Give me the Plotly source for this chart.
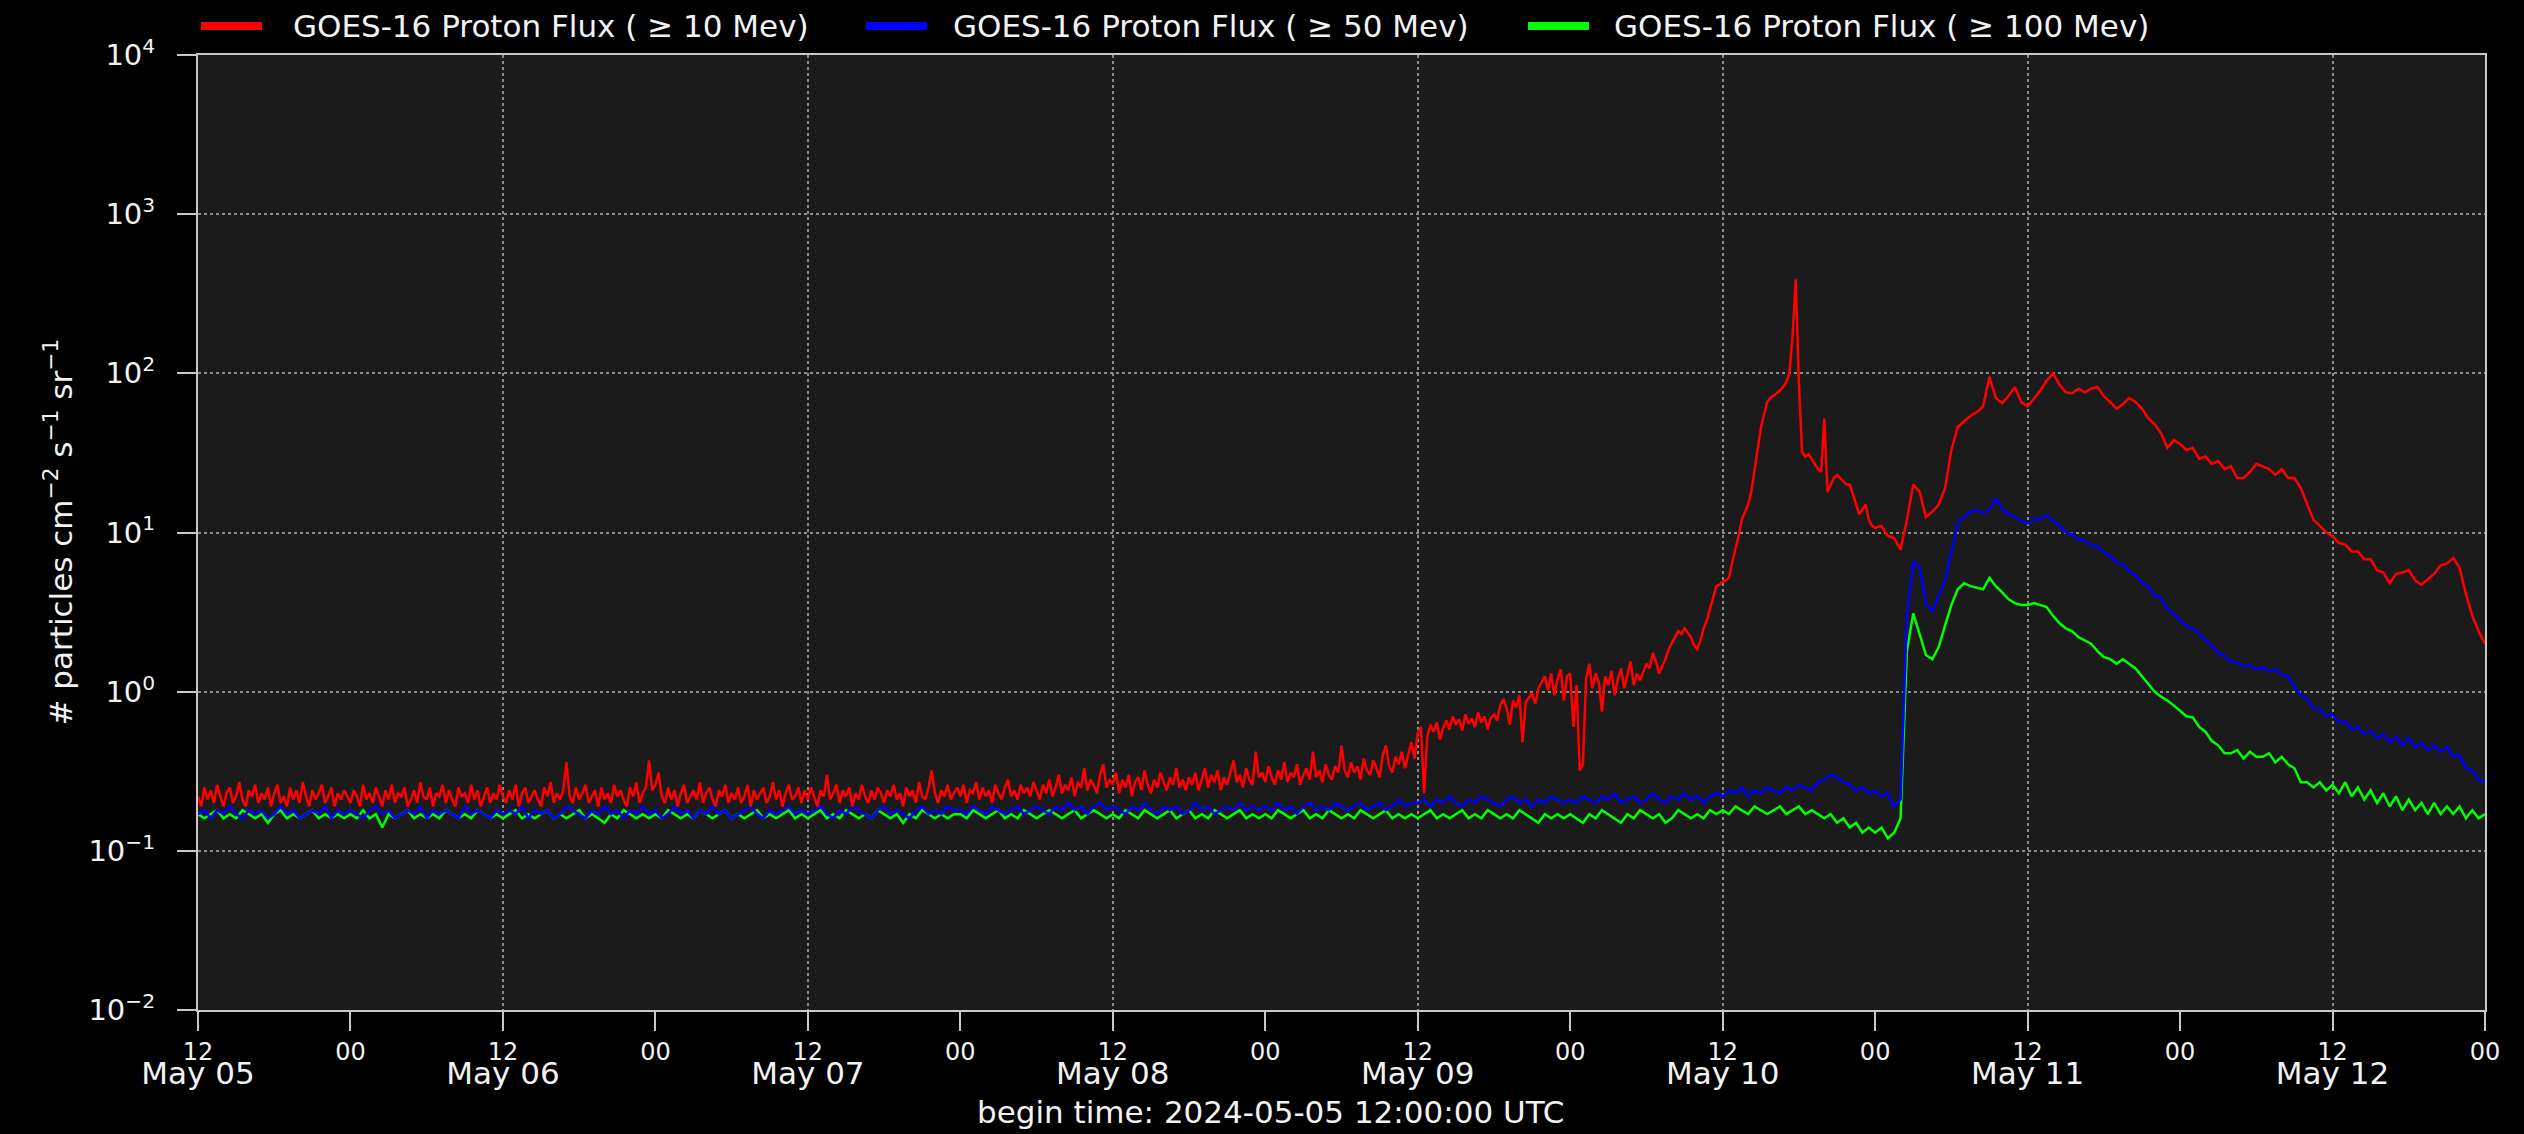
import pandas as pd
import plotly.graph_objects as go

BEGIN = "2024-05-05 12:00"
END = "2024-05-13 00:00"

# 30-minute samples across the whole window (>= 50 and >= 100 MeV channels)
times = pd.date_range(BEGIN, END, freq="30min")
# >= 10 MeV channel: 15-minute samples up to May 11 00:00, 30-minute after
times_10mev = pd.date_range(BEGIN, "2024-05-10 23:45", freq="15min").append(
    pd.date_range("2024-05-11 00:00", END, freq="30min"))

# >= 10 MeV integral proton flux (pfu)
flux_10mev = [
    0.22, 0.19, 0.25, 0.21, 0.24, 0.20, 0.26, 0.22, 0.19, 0.23, 0.25, 0.20, 0.22, 0.27, 0.21, 0.19, 0.24, 0.22, 0.26, 0.20, 0.23, 0.21, 0.25, 0.19,
    0.23, 0.26, 0.20, 0.22, 0.19, 0.25, 0.21, 0.24, 0.20, 0.27, 0.22, 0.19, 0.24, 0.21, 0.23, 0.26, 0.20, 0.22, 0.25, 0.19, 0.23, 0.21, 0.24, 0.22,
    0.20, 0.24, 0.22, 0.19, 0.26, 0.21, 0.23, 0.20, 0.25, 0.22, 0.19, 0.24, 0.21, 0.26, 0.20, 0.23, 0.22, 0.25, 0.19, 0.21, 0.24, 0.20, 0.27, 0.22,
    0.21, 0.25, 0.19, 0.23, 0.22, 0.26, 0.20, 0.24, 0.21, 0.19, 0.25, 0.22, 0.23, 0.20, 0.26, 0.21, 0.24, 0.19, 0.22, 0.25, 0.20, 0.23, 0.21, 0.26,
    0.22, 0.20, 0.24, 0.21, 0.26, 0.19, 0.23, 0.25, 0.20, 0.22, 0.24, 0.21, 0.19, 0.25, 0.22, 0.27, 0.20, 0.23, 0.21, 0.24, 0.36, 0.22, 0.20, 0.25,
    0.21, 0.23, 0.26, 0.20, 0.22, 0.24, 0.19, 0.25, 0.21, 0.23, 0.20, 0.26, 0.22, 0.24, 0.21, 0.19, 0.25, 0.22, 0.27, 0.20, 0.23, 0.25, 0.37, 0.24,
    0.26, 0.31, 0.22, 0.20, 0.25, 0.21, 0.24, 0.19, 0.23, 0.26, 0.20, 0.22, 0.24, 0.21, 0.27, 0.20, 0.23, 0.25, 0.21, 0.19, 0.24, 0.22, 0.26, 0.20,
    0.23, 0.21, 0.25, 0.20, 0.22, 0.26, 0.19, 0.24, 0.21, 0.23, 0.25, 0.20, 0.22, 0.27, 0.21, 0.24, 0.19, 0.23, 0.26, 0.21, 0.22, 0.25, 0.20, 0.24,
    0.21, 0.25, 0.22, 0.19, 0.24, 0.22, 0.30, 0.21, 0.23, 0.26, 0.20, 0.24, 0.22, 0.25, 0.19, 0.23, 0.21, 0.26, 0.22, 0.20, 0.24, 0.21, 0.25, 0.23,
    0.20, 0.24, 0.22, 0.26, 0.21, 0.23, 0.19, 0.25, 0.22, 0.24, 0.20, 0.27, 0.22, 0.21, 0.25, 0.32, 0.23, 0.20, 0.24, 0.22, 0.26, 0.21, 0.23, 0.25,
    0.22, 0.26, 0.20, 0.24, 0.23, 0.27, 0.21, 0.25, 0.22, 0.24, 0.20, 0.26, 0.23, 0.21, 0.25, 0.28, 0.22, 0.24, 0.21, 0.26, 0.23, 0.25, 0.22, 0.27,
    0.24, 0.21, 0.26, 0.23, 0.28, 0.22, 0.25, 0.30, 0.23, 0.26, 0.24, 0.29, 0.22, 0.27, 0.25, 0.33, 0.24, 0.28, 0.26, 0.23, 0.30, 0.35, 0.25, 0.28,
    0.26, 0.31, 0.23, 0.28, 0.25, 0.30, 0.22, 0.27, 0.29, 0.24, 0.32, 0.26, 0.23, 0.28, 0.25, 0.31, 0.27, 0.24, 0.29, 0.26, 0.33, 0.25, 0.28, 0.24,
    0.29, 0.26, 0.31, 0.24, 0.28, 0.33, 0.25, 0.30, 0.27, 0.32, 0.24, 0.29, 0.26, 0.31, 0.37, 0.27, 0.30, 0.25, 0.33, 0.28, 0.26, 0.42, 0.29, 0.31,
    0.27, 0.34, 0.29, 0.26, 0.32, 0.28, 0.36, 0.27, 0.31, 0.29, 0.35, 0.26, 0.30, 0.33, 0.28, 0.42, 0.29, 0.32, 0.27, 0.35, 0.30, 0.28, 0.34, 0.31,
    0.46, 0.32, 0.29, 0.36, 0.31, 0.34, 0.28, 0.38, 0.32, 0.30, 0.37, 0.33, 0.29, 0.40, 0.46, 0.34, 0.31, 0.39, 0.35, 0.42, 0.33, 0.40, 0.48, 0.38,
    0.55, 0.60, 0.23, 0.52, 0.62, 0.56, 0.64, 0.50, 0.59, 0.66, 0.58, 0.70, 0.62, 0.67, 0.57, 0.72, 0.63, 0.68, 0.60, 0.74, 0.64, 0.70, 0.58, 0.68,
    0.72, 0.66, 0.82, 0.90, 0.78, 0.62, 0.88, 0.80, 0.95, 0.48, 0.86, 0.92, 0.98, 0.84, 1.05, 1.15, 1.25, 1.02, 1.30, 0.95, 1.20, 1.38, 0.88, 1.25,
    1.30, 0.60, 1.10, 0.32, 0.35, 1.20, 1.50, 1.05, 1.30, 1.15, 0.75, 1.25, 1.10, 1.35, 0.95, 1.20, 1.40, 1.05, 1.25, 1.55, 1.10, 1.30, 1.18, 1.35,
    1.50, 1.40, 1.75, 1.55, 1.30, 1.45, 1.60, 1.85, 2.00, 2.20, 2.40, 2.30, 2.50, 2.35, 2.20, 1.95, 1.85, 2.10, 2.50, 2.80, 3.30, 3.80, 4.60, 4.70,
    4.9, 5.0, 5.2, 6.5, 7.8, 9.5, 12, 13.5, 15, 18, 24, 33, 45, 55, 66, 70, 72, 75, 78, 82, 88, 100, 170, 390,
    86, 32, 30, 31, 29, 27, 25, 24, 52, 18, 20, 22, 23, 22, 21, 20, 20, 17, 15, 13, 14, 15, 12, 11,
    # 30-minute part from May 11 00:00
    10.7, 11, 9.5, 9.2, 7.8, 12, 20, 18, 12.5, 13.5, 15, 19, 33, 46, 50, 54, 57, 62, 95, 70, 65, 72, 82, 66,
    62, 70, 78, 90, 100, 85, 76, 75, 80, 76, 80, 82, 72, 66, 60, 64, 70, 66, 60, 52, 48, 42, 34, 38,
    36, 33, 34, 29, 30, 27, 28, 25, 26, 22, 22, 24, 27, 26, 25, 23, 25, 22, 22, 19, 15, 12, 11, 10,
    9.5, 8.6, 8.4, 7.6, 7.6, 6.8, 6.8, 5.8, 5.6, 4.8, 5.5, 5.6, 5.8, 5.0, 4.7, 5.1, 5.5, 6.2, 6.4, 6.9, 6.0, 4.1, 3.0, 2.4,
    2.0,
]

# >= 50 MeV integral proton flux (pfu)
flux_50mev = [
    0.17, 0.18, 0.16, 0.18, 0.17, 0.19, 0.17, 0.16, 0.18, 0.17, 0.18, 0.16, 0.17, 0.19, 0.17, 0.18, 0.16, 0.17, 0.18, 0.17, 0.19, 0.16, 0.18, 0.17,
    0.18, 0.17, 0.16, 0.18, 0.19, 0.17, 0.18, 0.16, 0.17, 0.18, 0.17, 0.19, 0.16, 0.18, 0.17, 0.18, 0.17, 0.16, 0.19, 0.17, 0.18, 0.17, 0.16, 0.18,
    0.17, 0.18, 0.17, 0.19, 0.16, 0.18, 0.17, 0.18, 0.16, 0.17, 0.19, 0.18, 0.17, 0.16, 0.18, 0.17, 0.19, 0.17, 0.18, 0.16, 0.18, 0.17, 0.19, 0.17,
    0.18, 0.16, 0.17, 0.19, 0.17, 0.18, 0.16, 0.18, 0.17, 0.19, 0.17, 0.18, 0.16, 0.17, 0.18, 0.19, 0.17, 0.16, 0.18, 0.17, 0.18, 0.19, 0.17, 0.18,
    0.17, 0.18, 0.19, 0.17, 0.16, 0.18, 0.17, 0.19, 0.18, 0.17, 0.16, 0.18, 0.19, 0.17, 0.18, 0.17, 0.16, 0.18, 0.19, 0.17, 0.18, 0.17, 0.19, 0.18,
    0.18, 0.17, 0.19, 0.18, 0.17, 0.19, 0.18, 0.17, 0.18, 0.19, 0.17, 0.18, 0.19, 0.18, 0.17, 0.19, 0.18, 0.20, 0.18, 0.19, 0.17, 0.19, 0.20, 0.18,
    0.19, 0.18, 0.17, 0.19, 0.18, 0.20, 0.18, 0.17, 0.19, 0.18, 0.19, 0.17, 0.18, 0.20, 0.18, 0.19, 0.17, 0.18, 0.19, 0.18, 0.20, 0.18, 0.19, 0.18,
    0.19, 0.18, 0.20, 0.18, 0.19, 0.17, 0.19, 0.20, 0.18, 0.19, 0.18, 0.20, 0.19, 0.18, 0.19, 0.20, 0.18, 0.19, 0.20, 0.18, 0.19, 0.21, 0.19, 0.20,
    0.20, 0.21, 0.19, 0.21, 0.20, 0.22, 0.20, 0.19, 0.21, 0.20, 0.22, 0.21, 0.20, 0.19, 0.21, 0.22, 0.20, 0.21, 0.19, 0.21, 0.20, 0.22, 0.21, 0.20,
    0.21, 0.20, 0.22, 0.21, 0.20, 0.22, 0.21, 0.23, 0.20, 0.21, 0.22, 0.20, 0.21, 0.23, 0.21, 0.20, 0.22, 0.21, 0.23, 0.21, 0.22, 0.20, 0.22, 0.23,
    0.22, 0.24, 0.23, 0.25, 0.22, 0.24, 0.23, 0.25, 0.24, 0.23, 0.25, 0.24, 0.26, 0.25, 0.24, 0.27, 0.28, 0.30, 0.29, 0.27, 0.26, 0.24, 0.25, 0.23,
    0.24, 0.22, 0.23, 0.19, 0.21, 3.0, 6.6, 6.0, 3.6, 3.2, 4.0, 5.0, 7.5, 11.5, 12.5, 13.5, 13.8, 13.2, 14.0, 16.5, 14.0, 13.0, 12.6, 11.8,
    11.4, 12.0, 12.2, 12.8, 11.8, 11.2, 10.0, 9.8, 9.0, 8.9, 8.3, 8.2, 7.5, 7.1, 6.5, 6.3, 5.7, 5.4, 4.8, 4.6, 4.0, 3.9, 3.3, 3.1,
    2.8, 2.6, 2.5, 2.3, 2.1, 1.95, 1.75, 1.68, 1.55, 1.52, 1.44, 1.46, 1.38, 1.42, 1.34, 1.38, 1.28, 1.25, 1.08, 0.95, 0.90, 0.78, 0.78, 0.70,
    0.72, 0.64, 0.65, 0.58, 0.60, 0.54, 0.57, 0.51, 0.54, 0.48, 0.52, 0.46, 0.51, 0.45, 0.48, 0.43, 0.46, 0.42, 0.45, 0.39, 0.40, 0.33, 0.32, 0.28,
    0.27,
]

# >= 100 MeV integral proton flux (pfu)
flux_100mev = [
    0.17, 0.16, 0.17, 0.18, 0.16, 0.17, 0.16, 0.18, 0.17, 0.16, 0.17, 0.15, 0.17, 0.18, 0.16, 0.17, 0.16, 0.17, 0.18, 0.16, 0.17, 0.16, 0.17, 0.16,
    0.17, 0.16, 0.18, 0.16, 0.17, 0.14, 0.17, 0.16, 0.17, 0.18, 0.16, 0.17, 0.16, 0.17, 0.16, 0.18, 0.17, 0.16, 0.17, 0.16, 0.18, 0.17, 0.16, 0.17,
    0.16, 0.17, 0.18, 0.16, 0.17, 0.16, 0.17, 0.18, 0.16, 0.17, 0.16, 0.17, 0.18, 0.16, 0.17, 0.16, 0.15, 0.17, 0.16, 0.18, 0.17, 0.16, 0.17, 0.16,
    0.17, 0.16, 0.18, 0.17, 0.16, 0.17, 0.16, 0.18, 0.17, 0.16, 0.17, 0.18, 0.16, 0.17, 0.16, 0.17, 0.18, 0.16, 0.17, 0.16, 0.17, 0.18, 0.16, 0.17,
    0.16, 0.17, 0.18, 0.16, 0.17, 0.16, 0.18, 0.17, 0.16, 0.17, 0.16, 0.18, 0.17, 0.16, 0.17, 0.15, 0.17, 0.16, 0.18, 0.17, 0.16, 0.17, 0.16, 0.17,
    0.17, 0.16, 0.18, 0.17, 0.16, 0.17, 0.18, 0.16, 0.17, 0.16, 0.18, 0.17, 0.16, 0.17, 0.18, 0.17, 0.16, 0.17, 0.18, 0.16, 0.17, 0.18, 0.17, 0.16,
    0.17, 0.16, 0.18, 0.17, 0.16, 0.18, 0.17, 0.16, 0.17, 0.18, 0.16, 0.17, 0.18, 0.16, 0.17, 0.16, 0.18, 0.17, 0.16, 0.17, 0.18, 0.16, 0.17, 0.16,
    0.17, 0.16, 0.18, 0.17, 0.16, 0.17, 0.18, 0.16, 0.17, 0.16, 0.18, 0.17, 0.16, 0.17, 0.16, 0.18, 0.17, 0.16, 0.17, 0.18, 0.16, 0.17, 0.16, 0.17,
    0.16, 0.17, 0.18, 0.16, 0.17, 0.16, 0.17, 0.18, 0.16, 0.17, 0.16, 0.18, 0.17, 0.16, 0.17, 0.16, 0.18, 0.17, 0.16, 0.15, 0.17, 0.16, 0.17, 0.16,
    0.17, 0.16, 0.15, 0.17, 0.16, 0.18, 0.17, 0.16, 0.15, 0.17, 0.16, 0.18, 0.17, 0.16, 0.17, 0.15, 0.16, 0.18, 0.17, 0.16, 0.17, 0.16, 0.18, 0.17,
    0.18, 0.17, 0.19, 0.18, 0.17, 0.19, 0.18, 0.17, 0.18, 0.19, 0.17, 0.18, 0.19, 0.17, 0.18, 0.17, 0.16, 0.17, 0.15, 0.16, 0.14, 0.15, 0.13, 0.14,
    0.13, 0.14, 0.12, 0.13, 0.16, 1.8, 3.1, 2.3, 1.7, 1.6, 1.9, 2.6, 3.5, 4.4, 4.8, 4.6, 4.5, 4.4, 5.2, 4.6, 4.2, 3.8, 3.6, 3.5,
    3.5, 3.6, 3.5, 3.4, 3.0, 2.7, 2.5, 2.4, 2.2, 2.1, 2.0, 1.8, 1.65, 1.6, 1.5, 1.6, 1.5, 1.4, 1.25, 1.12, 1.0, 0.93, 0.88, 0.82,
    0.76, 0.70, 0.69, 0.60, 0.56, 0.49, 0.46, 0.41, 0.41, 0.43, 0.38, 0.42, 0.39, 0.39, 0.41, 0.36, 0.39, 0.35, 0.33, 0.27, 0.27, 0.25, 0.27, 0.24,
    0.26, 0.23, 0.27, 0.22, 0.25, 0.21, 0.24, 0.20, 0.23, 0.19, 0.22, 0.18, 0.21, 0.18, 0.20, 0.17, 0.20, 0.17, 0.19, 0.17, 0.19, 0.16, 0.18, 0.16,
    0.17,
]

series_names = [
    "GOES-16 Proton Flux ( \u2265 10 Mev)",
    "GOES-16 Proton Flux ( \u2265 50 Mev)",
    "GOES-16 Proton Flux ( \u2265 100 Mev)",
]
series_colors = ["#ff0000", "#0000ff", "#00ff00"]

# Time ticks every 12 h; the noon ticks carry the date and a grid line
tick_times = pd.date_range(BEGIN, END, freq="12h")
hour_labels = [f"{t:%H}" for t in tick_times]
noon_times = [t for t in tick_times if t.hour == 12]
date_labels = [f"{t:%b %d}" for t in noon_times]

# Decade ticks of the flux axis
flux_ticks = [1e-2, 1e-1, 1e0, 1e1, 1e2, 1e3, 1e4]
flux_labels = ["10<sup>\u22122</sup>", "10<sup>\u22121</sup>", "10<sup>0</sup>", "10<sup>1</sup>",
               "10<sup>2</sup>", "10<sup>3</sup>", "10<sup>4</sup>"]

FONT = "DejaVu Sans"
TEXT = "#f2f2f2"
AXIS = "#c8c8c8"
GRID = "#8c8c8c"

fig = go.Figure()
# green and blue on the main x axis, red on the overlay so it sits on top
fig.add_trace(go.Scatter(x=times, y=flux_100mev, mode="lines", name=series_names[2],
                         line=dict(color=series_colors[2], width=2.5), xaxis="x", yaxis="y"))
fig.add_trace(go.Scatter(x=times, y=flux_50mev, mode="lines", name=series_names[1],
                         line=dict(color=series_colors[1], width=2.5), xaxis="x", yaxis="y"))
fig.add_trace(go.Scatter(x=times_10mev, y=flux_10mev, mode="lines", name=series_names[0],
                         line=dict(color=series_colors[0], width=2.5), xaxis="x2", yaxis="y"))

L, R, T, B = 198, 39, 55, 124
W, H = 2524, 1134
pw, ph = W - L - R, H - T - B


def px_x(p):
    return (p - L) / pw


def px_y(p):
    return (H - B - p) / ph


annotations = [
    dict(text="# particles cm<sup>\u22122</sup> s<sup>\u22121</sup> sr<sup>\u22121</sup>",
         xref="paper", yref="paper", x=px_x(58), y=0.5, textangle=-90,
         xanchor="center", yanchor="middle", showarrow=False,
         font=dict(size=31, color=TEXT, family=FONT)),
    dict(text="begin time: 2024-05-05 12:00:00 UTC",
         xref="paper", yref="paper", x=px_x(1270), y=px_y(1112),
         xanchor="center", yanchor="middle", showarrow=False,
         font=dict(size=31, color=TEXT, family=FONT)),
]
shapes = []
legend_line_x = [(201, 262, 291), (866, 927, 951), (1528, 1589, 1612)]
legend_y = px_y(26)
for (x0, x1, xt), name, color in zip(legend_line_x, series_names, series_colors):
    shapes.append(dict(type="line", xref="paper", yref="paper",
                       x0=px_x(x0), x1=px_x(x1), y0=legend_y, y1=legend_y,
                       line=dict(color=color, width=8)))
    annotations.append(dict(text=name, xref="paper", yref="paper", x=px_x(xt), y=legend_y,
                            xanchor="left", yanchor="middle", showarrow=False,
                            font=dict(size=31, color=TEXT, family=FONT)))

fig.update_layout(
    width=W, height=H,
    margin=dict(l=L, r=R, t=T, b=B, pad=0, autoexpand=False),
    paper_bgcolor="#000000",
    plot_bgcolor="#1b1b1b",
    showlegend=False,
    font=dict(family=FONT, color=TEXT),
    xaxis=dict(
        type="date", range=[BEGIN, END], tickmode="array",
        tickvals=list(tick_times), ticktext=hour_labels,
        showgrid=False, zeroline=False,
        ticks="outside", ticklen=19, tickwidth=2, tickcolor=AXIS,
        showline=True, linecolor=AXIS, linewidth=2, mirror=True,
        tickfont=dict(size=24, color=TEXT, family=FONT),
    ),
    xaxis2=dict(
        type="date", range=[BEGIN, END], overlaying="x", anchor="y", side="bottom",
        tickmode="array", tickvals=noon_times, ticktext=date_labels, ticks="",
        tickfont=dict(size=31, color=TEXT, family=FONT), ticklabelstandoff=42,
        showgrid=True, gridcolor=GRID, griddash="dot", gridwidth=1.5,
        showline=False, zeroline=False,
    ),
    yaxis=dict(
        type="log", range=[-2, 4], tickmode="array",
        tickvals=flux_ticks, ticktext=flux_labels,
        showgrid=True, gridcolor=GRID, griddash="dot", gridwidth=1.5,
        ticks="outside", ticklen=19, tickwidth=2, tickcolor=AXIS,
        showline=True, linecolor=AXIS, linewidth=2, mirror=True,
        tickfont=dict(size=29, color=TEXT, family=FONT),
        ticklabelstandoff=16, zeroline=False,
    ),
    annotations=annotations,
    shapes=shapes,
)

fig.write_html("out.html")
